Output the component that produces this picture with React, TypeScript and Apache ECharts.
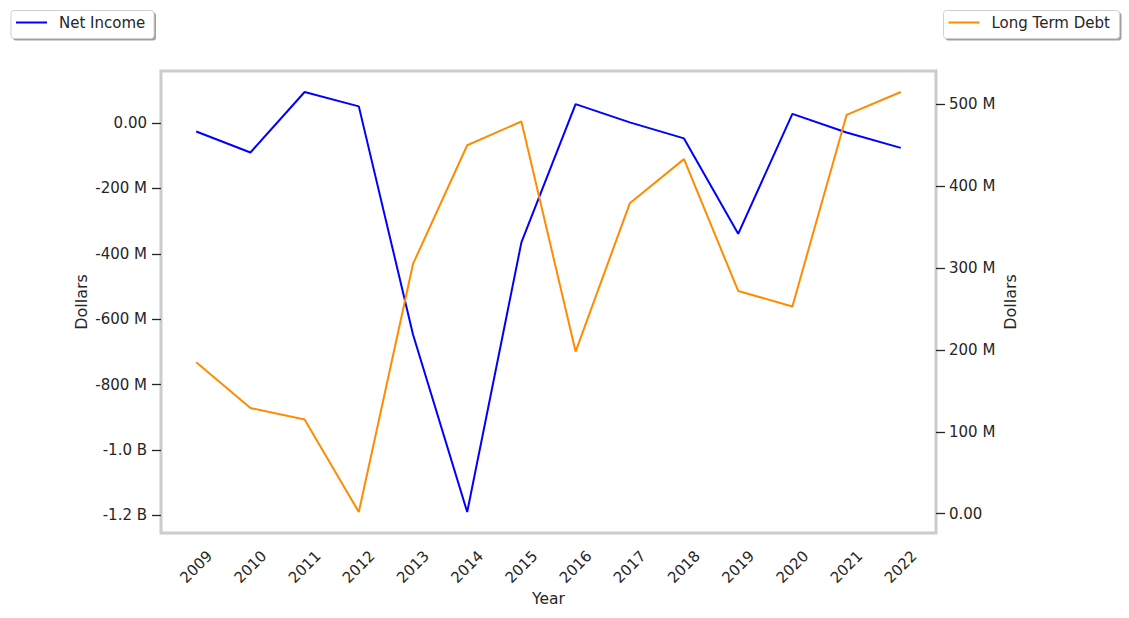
import React, { useEffect, useRef } from "react";
import * as echarts from "echarts";

const years = [2009, 2010, 2011, 2012, 2013, 2014, 2015, 2016, 2017, 2018, 2019, 2020, 2021, 2022];
// values in millions of dollars
const netIncome = [-26, -90, 95, 51, -647, -1190, -365, 58, 2, -47, -339, 28, -29, -76];
const longTermDebt = [185, 129, 115, 2, 305, 450, 479, 198, 379, 433, 272, 253, 487, 515];
const leftTicks = [0, -200, -400, -600, -800, -1000, -1200];
const rightTicks = [0, 100, 200, 300, 400, 500];

const NET_COLOR = "#0000ff";
const DEBT_COLOR = "#ff8c00";
const FONT = "DejaVu Sans";
const TEXT = "#262626";

function fmt(v: number): string {
  if (v === 0) return "0.00";
  if (Math.abs(v) >= 1000) return (v / 1000).toFixed(1) + " B";
  return v.toFixed(0) + " M";
}

function padded(vals: number[]) {
  const lo = Math.min(...vals);
  const hi = Math.max(...vals);
  const m = (hi - lo) * 0.05;
  return { min: lo - m, max: hi + m };
}

function legendBox(x: number, y: number, w: number, h: number, color: string, label: string) {
  return {
    type: "group",
    x,
    y,
    children: [
      { type: "rect", shape: { x: 2, y: 2, width: w, height: h, r: 3 }, style: { fill: "#a0a0a0" } },
      { type: "rect", shape: { x: 0, y: 0, width: w, height: h, r: 3 }, style: { fill: "#ffffff", stroke: "#d0d0d0", lineWidth: 1 } },
      { type: "line", shape: { x1: 5, y1: 12, x2: 36, y2: 12 }, style: { stroke: color, lineWidth: 2 } },
      {
        type: "text",
        x: 48,
        y: 12,
        style: { text: label, fill: TEXT, font: `15px "${FONT}"`, textVerticalAlign: "middle", verticalAlign: "middle" },
      },
    ],
  };
}

export default function App() {
  const ref = useRef<HTMLDivElement>(null);
  useEffect(() => {
    document.body.style.margin = "0";
    if (!ref.current) return;
    const chart = echarts.init(ref.current, undefined, { renderer: "svg" });
    const L = padded(netIncome);
    const R = padded(longTermDebt);
    const span = years[years.length - 1] - years[0];
    const xMin = years[0] - span * 0.05;
    const xMax = years[years.length - 1] + span * 0.05;
    chart.setOption({
      animation: false,
      textStyle: { fontFamily: FONT },
      grid: {
        left: 161,
        top: 71,
        width: 775,
        height: 462,
        show: true,
        borderColor: "#cccccc",
        borderWidth: 3,
        backgroundColor: "#ffffff",
      },
      xAxis: {
        type: "value",
        min: xMin,
        max: xMax,
        name: "Year",
        nameLocation: "middle",
        nameGap: 58,
        nameMoveOverlap: false,
        nameTextStyle: { fontSize: 15.5, color: TEXT, fontFamily: FONT },
        axisLine: { show: false },
        axisTick: { show: false },
        splitLine: { show: false },
        axisLabel: {
          customValues: years,
          formatter: (v: number) => String(Math.round(v)),
          rotate: 45,
          align: "center",
          verticalAlign: "middle",
          margin: 34,
          fontSize: 15,
          color: TEXT,
          fontFamily: FONT,
        },
      },
      yAxis: [
        {
          type: "value",
          position: "left",
          min: L.min,
          max: L.max,
          name: "Dollars",
          nameLocation: "middle",
          nameRotate: 90,
          nameGap: 72,
          nameMoveOverlap: false,
          nameTextStyle: { fontSize: 16, color: TEXT, fontFamily: FONT },
          axisLine: { show: false },
          splitLine: { show: false },
          axisTick: { show: true, customValues: leftTicks, length: 9, lineStyle: { color: TEXT, width: 1.3 } },
          axisLabel: { customValues: leftTicks, formatter: fmt, margin: 14, fontSize: 15, color: TEXT, fontFamily: FONT },
        },
        {
          type: "value",
          position: "right",
          min: R.min,
          max: R.max,
          name: "Dollars",
          nameLocation: "middle",
          nameRotate: 90,
          nameGap: 66,
          nameMoveOverlap: false,
          nameTextStyle: { fontSize: 16, color: TEXT, fontFamily: FONT },
          axisLine: { show: false },
          splitLine: { show: false },
          axisTick: { show: true, customValues: rightTicks, length: 9, lineStyle: { color: TEXT, width: 1.3 } },
          axisLabel: { customValues: rightTicks, formatter: fmt, margin: 13, fontSize: 15, color: TEXT, fontFamily: FONT },
        },
      ],
      series: [
        {
          name: "Net Income",
          type: "line",
          yAxisIndex: 0,
          data: years.map((y, i) => [y, netIncome[i]]),
          showSymbol: false,
          lineStyle: { color: NET_COLOR, width: 2 },
          itemStyle: { color: NET_COLOR },
        },
        {
          name: "Long Term Debt",
          type: "line",
          yAxisIndex: 1,
          data: years.map((y, i) => [y, longTermDebt[i]]),
          showSymbol: false,
          lineStyle: { color: DEBT_COLOR, width: 2 },
          itemStyle: { color: DEBT_COLOR },
        },
      ],
      graphic: [
        legendBox(11, 10.5, 143, 28, NET_COLOR, "Net Income"),
        legendBox(943.5, 10.5, 176, 28, DEBT_COLOR, "Long Term Debt"),
      ],
    });
    return () => chart.dispose();
  }, []);
  return <div ref={ref} style={{ width: 1129, height: 618 }} />;
}
